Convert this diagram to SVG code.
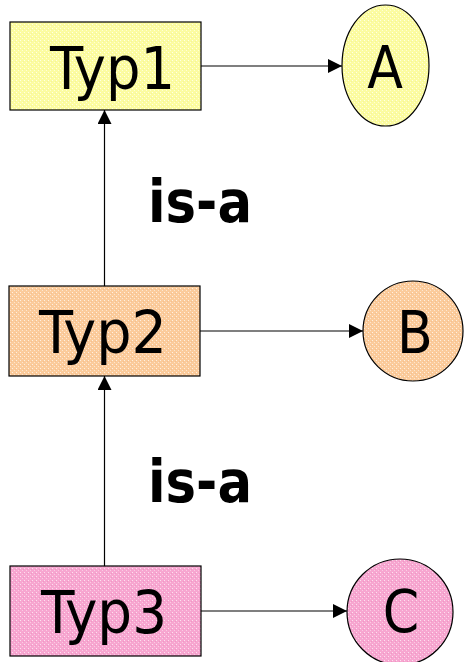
<svg xmlns="http://www.w3.org/2000/svg" width="464" height="662" viewBox="0 0 464 662">
<style>
.lbl{font-family:"DejaVu Sans Condensed","DejaVu Sans",Verdana,sans-serif;font-size:58px;fill:#000}
.isa{font-family:"DejaVu Sans","Verdana",sans-serif;font-weight:bold;font-size:58px;fill:#000}
.shape{stroke:#000;stroke-width:1.2}
.conn{stroke:#000;stroke-width:1.2;fill:none}
</style>
<defs>
<pattern id="pY" width="4" height="4" patternUnits="userSpaceOnUse">
<rect width="4" height="4" fill="#fcfca0"/>
<rect x="0" y="0" width="1" height="1" fill="#ffffe6"/>
<rect x="2" y="2" width="1" height="1" fill="#ffffd6"/>
<rect x="3" y="1" width="1" height="1" fill="#f4f49a"/>
</pattern>
<pattern id="pO" width="4" height="4" patternUnits="userSpaceOnUse">
<rect width="4" height="4" fill="#fbcb9b"/>
<rect x="0" y="0" width="1" height="1" fill="#fff0e0"/>
<rect x="2" y="2" width="1" height="1" fill="#fde6cf"/>
<rect x="3" y="1" width="1" height="1" fill="#f4c090"/>
</pattern>
<pattern id="pP" width="4" height="4" patternUnits="userSpaceOnUse">
<rect width="4" height="4" fill="#f7a6d0"/>
<rect x="0" y="0" width="1" height="1" fill="#fde0ef"/>
<rect x="2" y="2" width="1" height="1" fill="#fbcbe4"/>
<rect x="3" y="1" width="1" height="1" fill="#ef98c4"/>
</pattern>
<marker id="ah" viewBox="0 0 14 14" refX="14" refY="7" markerWidth="14" markerHeight="14" markerUnits="userSpaceOnUse" orient="auto">
<path d="M0,0 L14,7 L0,14 Z" fill="#000"/>
</marker>
</defs>
<g id="connectors">
<line class="conn" x1="201" y1="66" x2="342" y2="66" marker-end="url(#ah)"/>
<line class="conn" x1="200" y1="331" x2="363" y2="331" marker-end="url(#ah)"/>
<line class="conn" x1="201" y1="611" x2="347" y2="611" marker-end="url(#ah)"/>
<line class="conn" x1="104.5" y1="286" x2="104.5" y2="110" marker-end="url(#ah)"/>
<line class="conn" x1="104.5" y1="566" x2="104.5" y2="376" marker-end="url(#ah)"/>
</g>
<g id="typ1">
<rect class="shape" x="10" y="22" width="191" height="88" fill="url(#pY)"/>
<text class="lbl" x="50" y="89" textLength="125" lengthAdjust="spacingAndGlyphs">Typ1</text>
</g>
<g id="typ2">
<rect class="shape" x="9" y="286" width="191" height="90" fill="url(#pO)"/>
<text class="lbl" x="39" y="353" textLength="128" lengthAdjust="spacingAndGlyphs">Typ2</text>
</g>
<g id="typ3">
<rect class="shape" x="10" y="566" width="191" height="90" fill="url(#pP)"/>
<text class="lbl" x="41" y="633" textLength="126" lengthAdjust="spacingAndGlyphs">Typ3</text>
</g>
<g id="A">
<ellipse class="shape" cx="385.5" cy="65.5" rx="43.5" ry="60.5" fill="url(#pY)"/>
<text class="lbl" x="385" y="88" text-anchor="middle">A</text>
</g>
<g id="B">
<circle class="shape" cx="413" cy="331" r="50" fill="url(#pO)"/>
<text class="lbl" x="415" y="353" text-anchor="middle">B</text>
</g>
<g id="C">
<circle class="shape" cx="400" cy="612" r="53" fill="url(#pP)"/>
<text class="lbl" x="401" y="632" text-anchor="middle">C</text>
</g>
<g id="isa1">
<text class="isa" x="148" y="222" textLength="104" lengthAdjust="spacingAndGlyphs">is-a</text>
</g>
<g id="isa2">
<text class="isa" x="148" y="502" textLength="104" lengthAdjust="spacingAndGlyphs">is-a</text>
</g>
</svg>
